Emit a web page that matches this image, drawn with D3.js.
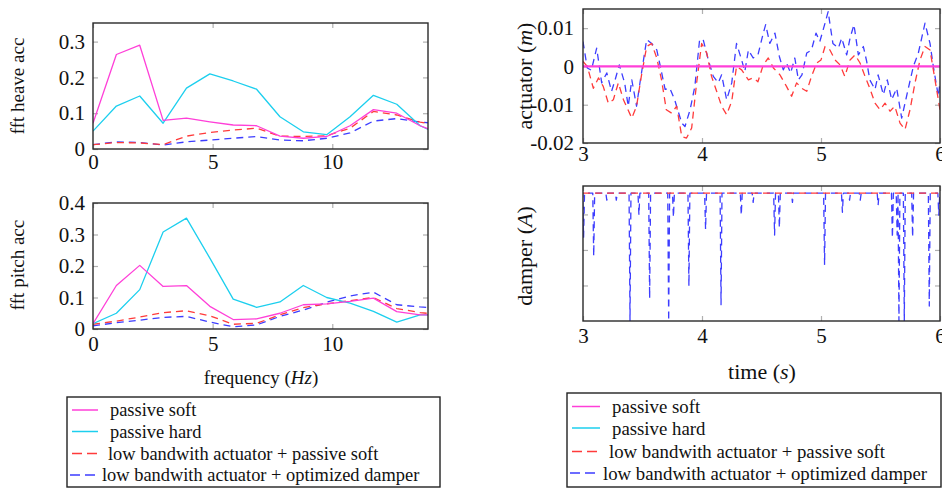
<!DOCTYPE html>
<html><head><meta charset="utf-8">
<script src="https://cdn.jsdelivr.net/npm/d3@7"></script>
<style>body{margin:0;background:#fff}svg{display:block}</style>
</head><body>
<svg id="c" width="942" height="489"></svg>
<script>
// ---------- data ----------
const freq = [0,0.977,1.953,2.930,3.906,4.883,5.859,6.836,7.813,8.789,9.766,10.742,11.719,12.695,13.672,14.648];
const heaveSoft  = [0.072,0.264,0.290,0.080,0.086,0.076,0.067,0.065,0.036,0.030,0.035,0.065,0.110,0.100,0.065,0.040];
const heaveHard  = [0.050,0.120,0.148,0.072,0.170,0.210,0.190,0.167,0.090,0.048,0.040,0.090,0.150,0.125,0.065,0.035];
const heaveLbSoft= [0.012,0.018,0.017,0.012,0.036,0.046,0.053,0.058,0.036,0.035,0.037,0.058,0.105,0.095,0.075,0.065];
const heaveLbOpt = [0.012,0.020,0.018,0.011,0.020,0.025,0.030,0.035,0.025,0.023,0.030,0.045,0.078,0.085,0.075,0.070];
const pitchSoft  = [0.017,0.138,0.202,0.135,0.138,0.072,0.030,0.032,0.050,0.077,0.080,0.088,0.098,0.055,0.045,0.045];
const pitchHard  = [0.017,0.050,0.125,0.308,0.352,0.225,0.095,0.069,0.086,0.138,0.100,0.082,0.056,0.022,0.045,0.045];
const pitchLbSoft= [0.015,0.025,0.038,0.052,0.058,0.042,0.015,0.018,0.045,0.068,0.080,0.090,0.100,0.065,0.052,0.045];
const pitchLbOpt = [0.010,0.020,0.028,0.037,0.040,0.022,0.007,0.013,0.040,0.060,0.085,0.105,0.117,0.077,0.070,0.065];

const actTimeBlue = [3.0,3.036,3.07,3.115,3.157,3.2,3.24,3.27,3.305,3.35,3.38,3.41,3.45,3.48,3.535,3.577,3.62,3.65,3.69,3.73,3.77,3.83,3.857,3.9,3.94,3.98,4.01,4.053,4.095,4.137,4.165,4.207,4.25,4.29,4.333,4.36,4.39,4.43,4.47,4.515,4.535,4.57,4.613,4.65,4.683,4.71,4.745,4.78,4.81,4.84,4.88,4.92,4.958,4.99,5.034,5.06,5.10,5.146,5.174,5.216,5.244,5.277,5.314,5.356,5.384,5.41,5.454,5.48,5.524,5.557,5.594,5.636,5.678,5.706,5.734,5.776,5.818,5.874,5.916,5.944,5.986,6.0];
const actBlue = [0.0065,-0.0004,-0.001,0.0048,-0.0043,-0.0017,-0.0065,-0.0035,0.0004,-0.0043,-0.0104,-0.0035,-0.0104,-0.004,0.007,0.006,0.0043,0,-0.006,-0.0057,-0.0087,-0.0148,-0.0157,-0.0113,-0.0052,0.007,0.007,0.0017,-0.0026,-0.0043,-0.0022,-0.0087,-0.0043,0.006,0.0017,-0.0013,0.0043,0.0022,0.003,0.0087,0.0109,0.006,0.0087,0.0026,-0.0009,0.0009,-0.0017,0.0022,-0.0035,-0.0022,0.0035,0.0043,0.0087,0.0065,0.0113,0.0143,0.006,0.0048,0.0074,0.003,0.0074,0.0109,0.003,0.0052,0.0013,-0.0035,-0.006,-0.0022,-0.0074,-0.0035,-0.0087,-0.0057,-0.0135,-0.0096,-0.0057,0,0.0035,0.0113,0.006,0,-0.0078,-0.004];
const actTimeRed = [3.0,3.036,3.087,3.13,3.17,3.213,3.255,3.297,3.34,3.41,3.45,3.49,3.535,3.577,3.62,3.66,3.70,3.745,3.787,3.83,3.87,3.913,3.955,3.997,4.04,4.08,4.123,4.165,4.207,4.25,4.29,4.333,4.39,4.43,4.47,4.515,4.557,4.6,4.655,4.71,4.753,4.795,4.838,4.88,4.92,4.964,5.0,5.034,5.075,5.118,5.16,5.2,5.244,5.286,5.328,5.37,5.41,5.454,5.496,5.538,5.58,5.62,5.664,5.706,5.748,5.79,5.832,5.874,5.916,5.944,6.0];
const actRed = [0.0013,0,-0.0057,-0.003,-0.0052,-0.0096,-0.0087,-0.0043,-0.0087,-0.0135,-0.0104,-0.0026,0.0052,0.006,0.0022,-0.0035,-0.0113,-0.0122,-0.0104,-0.0183,-0.0187,-0.0161,-0.0043,0.006,0.0035,-0.0026,-0.0065,-0.0104,-0.0126,-0.0091,0,-0.0009,-0.0035,-0.003,-0.004,0.0004,0.0022,-0.0004,-0.0022,-0.0052,-0.0078,-0.0043,-0.0057,-0.0065,-0.0026,0.0009,0.0017,0.0052,0.0043,0.0017,0.0004,-0.0026,0.0017,0.003,0.0009,-0.0026,-0.0057,-0.0096,-0.0113,-0.0096,-0.0117,-0.0104,-0.0148,-0.0165,-0.0113,-0.0043,0.0017,0.0052,0.0043,-0.0009,-0.0113];
const actPassive = [0,0];
const actPassiveTime = [3,6];

const damperBase = 1.8;
const damperSpikeT   = [3.005,3.09,3.20,3.28,3.395,3.47,3.56,3.72,3.76,3.89,4.03,4.16,4.33,4.43,4.61,4.65,4.76,5.03,5.18,5.24,5.33,5.48,5.60,5.64,5.655,5.70,5.77,5.91,5.99];
const damperSpikeMin = [1.18,0.91,1.70,1.70,0.0,1.49,0.32,0.0,1.46,0.49,1.29,0.23,1.49,1.67,1.21,1.31,1.67,0.79,1.53,1.70,1.70,1.63,1.17,1.21,0.0,0.0,1.18,0.21,1.49];

const heaveYTicks = [0,0.1,0.2,0.3];
const pitchYTicks = [0,0.1,0.2,0.3,0.4];
const freqTicks = [0,5,10];
const timeTicks = [3,4,5,6];
const actYTicks = [-0.02,-0.01,0,0.01];
const damperYTicks = [0.5,1.0,1.5];
const legendLabels = ["passive soft","passive hard","low bandwith actuator + passive soft","low bandwith actuator + optimized damper"];

// ---------- style ----------
const colors = ["#ff3fd8","#1ccfee","#ff3b3b","#3d3dff"];
const dashes = [null,null,"7,5","7,5"];
const svg = d3.select("#c");
const serif = "'Liberation Serif', 'Times New Roman', serif";
let clipId = 0;

function panel(o){
  const x = d3.scaleLinear().domain(o.xd).range([o.x0,o.x1]);
  const y = d3.scaleLinear().domain(o.yd).range([o.y1,o.y0]);
  const g = svg.append("g");
  const id = "clip"+(clipId++);
  svg.append("clipPath").attr("id",id).append("rect")
    .attr("x",o.x0).attr("y",o.y0).attr("width",o.x1-o.x0).attr("height",o.y1-o.y0);
  const gb = g.append("g").attr("transform",`translate(0,${o.y1})`)
    .call(d3.axisBottom(x).tickValues(o.xt).tickSizeInner(-5).tickSizeOuter(0).tickPadding(o.xpad).tickFormat(d3.format("d")));
  const gt = g.append("g").attr("transform",`translate(0,${o.y0})`)
    .call(d3.axisTop(x).tickValues(o.xt).tickSizeInner(-5).tickSizeOuter(0).tickFormat(""));
  const gl = g.append("g").attr("transform",`translate(${o.x0},0)`)
    .call(d3.axisLeft(y).tickValues(o.yt).tickSizeInner(-5).tickSizeOuter(0).tickPadding(o.ypad).tickFormat(o.yf));
  const gr = g.append("g").attr("transform",`translate(${o.x1},0)`)
    .call(d3.axisRight(y).tickValues(o.yt).tickSizeInner(-5).tickSizeOuter(0).tickFormat(""));
  [gb,gt,gl,gr].forEach(a=>{
    a.select(".domain").remove();
    a.selectAll(".tick line").attr("stroke","#b0b0b0").attr("stroke-width",1.2);
    a.selectAll("text").attr("font-family",serif).attr("font-size",o.fs).attr("fill","#111");
  });
  const lines = g.append("g").attr("clip-path",`url(#${id})`);
  const line = d3.line().x(d=>x(d[0])).y(d=>y(d[1]));
  o.series.forEach(s=>{
    lines.append("path").datum(s.pts).attr("d",line)
      .attr("fill","none").attr("stroke",colors[s.c]).attr("stroke-width",s.w||1.3)
      .attr("stroke-dasharray",dashes[s.c]).attr("stroke-linejoin","round");
  });
  g.append("rect").attr("x",o.x0).attr("y",o.y0).attr("width",o.x1-o.x0).attr("height",o.y1-o.y0)
    .attr("fill","none").attr("stroke","#2a2a2a").attr("stroke-width",1.4);
  return {x,y,g};
}
const zip = (a,b)=>a.map((v,i)=>[v,b[i]]);
const yfmt = d=> d===0?"0":String(d);

panel({x0:93,x1:428,y0:23,y1:149,xd:[0,14],yd:[0,0.352],xt:freqTicks,yt:heaveYTicks,xpad:5,ypad:8,fs:21,yf:yfmt,
  series:[{c:3,pts:zip(freq,heaveLbOpt)},{c:2,pts:zip(freq,heaveLbSoft)},{c:1,pts:zip(freq,heaveHard)},{c:0,pts:zip(freq,heaveSoft)}]});
panel({x0:93,x1:428,y0:203,y1:329,xd:[0,14],yd:[0,0.4],xt:freqTicks,yt:pitchYTicks,xpad:7,ypad:8,fs:21,yf:yfmt,
  series:[{c:3,pts:zip(freq,pitchLbOpt)},{c:2,pts:zip(freq,pitchLbSoft)},{c:1,pts:zip(freq,pitchHard)},{c:0,pts:zip(freq,pitchSoft)}]});
panel({x0:583,x1:940,y0:9,y1:143,xd:[3,6],yd:[-0.02,0.015],xt:timeTicks,yt:actYTicks,xpad:3,ypad:9,fs:21,yf:yfmt,
  series:[{c:3,pts:zip(actTimeBlue,actBlue)},{c:2,pts:zip(actTimeRed,actRed)},{c:0,pts:zip(actPassiveTime,actPassive),w:2.2}]});
// damper series built from the spike list
const damperBlue = [[3.0,1.4]];
damperSpikeT.forEach((t,i)=>{ damperBlue.push([t-0.008,damperBase],[t,damperSpikeMin[i]],[t+0.008,damperBase]); });
damperBlue.push([6.0,damperBase]);
panel({x0:583,x1:940,y0:186,y1:321,xd:[3,6],yd:[0,1.9],xt:timeTicks,yt:damperYTicks,xpad:7,ypad:10,fs:21,yf:()=>"",
  series:[{c:3,pts:damperBlue},{c:2,pts:[[3,damperBase],[6,damperBase]]}]});

// axis labels
function rlabel(cx,cy,fs){
  return svg.append("text").attr("transform",`translate(${cx},${cy}) rotate(-90)`)
    .attr("text-anchor","middle").attr("dominant-baseline","central")
    .attr("font-family",serif).attr("font-size",fs).attr("fill","#111");
}
rlabel(17,86,19).text("fft heave acc");
rlabel(17,265,19).text("fft pitch acc");
const a1 = rlabel(524,76,22); a1.append("tspan").text("actuator ("); a1.append("tspan").attr("font-style","italic").text("m"); a1.append("tspan").text(")");
const a2 = rlabel(524,256,22); a2.append("tspan").text("damper ("); a2.append("tspan").attr("font-style","italic").text("A"); a2.append("tspan").text(")");
const xl1 = svg.append("text").attr("x",261).attr("y",384).attr("text-anchor","middle").attr("font-family",serif).attr("font-size",19).attr("fill","#111");
xl1.append("tspan").text("frequency ("); xl1.append("tspan").attr("font-style","italic").text("Hz"); xl1.append("tspan").text(")");
const xl2 = svg.append("text").attr("x",762).attr("y",379).attr("text-anchor","middle").attr("font-family",serif).attr("font-size",22).attr("fill","#111");
xl2.append("tspan").text("time ("); xl2.append("tspan").attr("font-style","italic").text("s"); xl2.append("tspan").text(")");

// legends
function legend(bx,by,bw,bh,rows,lx0,lx1,tx,fs){
  const g = svg.append("g");
  g.append("rect").attr("x",bx).attr("y",by).attr("width",bw).attr("height",bh)
    .attr("fill","#fff").attr("stroke","#222").attr("stroke-width",1.4);
  legendLabels.forEach((lab,i)=>{
    const y = rows[i];
    g.append("line").attr("x1",lx0[i]).attr("x2",lx1).attr("y1",y).attr("y2",y)
      .attr("stroke",colors[i]).attr("stroke-width",1.5).attr("stroke-dasharray",i>=2?"10,5":null);
    g.append("text").attr("x",tx[i]).attr("y",y).attr("dominant-baseline","central")
      .attr("font-family",serif).attr("font-size",fs).attr("fill","#111").text(lab);
  });
}
legend(67,397,373,90,[410,431.5,453.5,475],[72,72,72,70],98,[110,110,108,102],18.4);
legend(567,393,374,94,[406.5,428,451.5,473],[572,572,572,570],600,[612,612,609,603],18.8);
</script>
</body></html>
